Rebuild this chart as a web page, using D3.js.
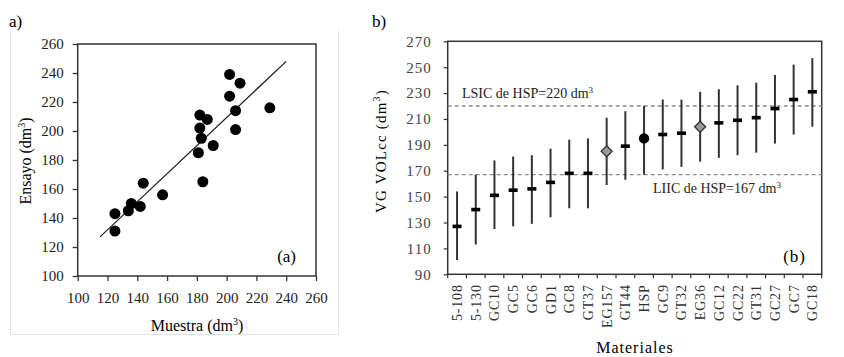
<!DOCTYPE html>
<html>
<head>
<meta charset="utf-8">
<script src="https://cdn.jsdelivr.net/npm/d3@7"></script>
<style>
  body { margin: 0; background: #fff; }
  svg text { font-family: "Liberation Serif", "Times New Roman", serif; }
</style>
</head>
<body>
<div class="chart"></div>
<script>
var width = 844;
var height = 357;

// ---- panel a) data ----
var muestra = [202, 209, 202, 229, 206, 182, 187, 182, 206, 183, 191, 181, 184, 144, 157, 136, 134, 142, 125, 125];
var ensayo  = [239, 233, 224, 216, 214, 211, 208, 202, 201, 195, 190, 185, 165, 164, 156, 150, 145, 148, 143, 131];
var lineX = [115, 240];
var lineY = [127, 248];
var ticksA = [100, 120, 140, 160, 180, 200, 220, 240, 260];

// ---- panel b) data ----
var materiales = ["5-108", "5-130", "GC10", "GC5", "GC6", "GD1", "GC8", "GT37", "EG157", "GT44",
                  "HSP", "GC9", "GT32", "EG36", "GC12", "GC22", "GT31", "GC27", "GC7", "GC18"];
var media    = [127, 140, 151, 155, 156, 161, 168, 168, 185, 189, 195, 198, 199, 204, 207, 209, 211, 218, 225, 231];
var inferior = [101, 113, 125, 127, 129, 134, 141, 141, 159, 163, 167, 171, 173, 177, 180, 182, 184, 191, 198, 204];
var superior = [154, 167, 178, 181, 182, 187, 194, 195, 211, 216, 220, 225, 225, 231, 233, 236, 238, 244, 252, 257];
var marcador = ["dash", "dash", "dash", "dash", "dash", "dash", "dash", "dash", "diamond", "dash",
                "circle", "dash", "dash", "diamond", "dash", "dash", "dash", "dash", "dash", "dash"];
var ticksB = [90, 110, 130, 150, 170, 190, 210, 230, 250, 270];
var LSIC = 220;
var LIIC = 167;

var svg = d3.select(".chart")
    .append("svg")
    .attr("width", width)
    .attr("height", height);

// ================= panel a =================
var xA = d3.scaleLinear().domain([100, 260]).range([77.7, 316]);
var yA = d3.scaleLinear().domain([100, 260]).range([276, 44]);

// faint chart-area frame
var gFrame = svg.append("g").attr("stroke", "#e3e3e3").attr("fill", "none");
gFrame.append("path").attr("d", "M10.5,30V334.5H338.5V30");

svg.append("text").attr("x", 9).attr("y", 27).attr("font-size", 17).text("a)");

var gA = svg.append("g");

var axA_x = gA.append("g")
    .attr("transform", "translate(0," + yA(100) + ")")
    .call(d3.axisBottom(xA).tickValues(ticksA).tickSize(5).tickPadding(11).tickSizeOuter(0));
var axA_y = gA.append("g")
    .attr("transform", "translate(" + xA(100) + ",0)")
    .call(d3.axisLeft(yA).tickValues(ticksA).tickSize(5).tickPadding(9).tickSizeOuter(0));
[axA_x, axA_y].forEach(function(ax){
    ax.select(".domain").remove();
    ax.selectAll("line").attr("stroke", "#333").attr("stroke-width", 1.3);
    ax.selectAll("text").attr("font-size", 15).attr("fill", "#222")
      .attr("font-family", "Liberation Serif, serif");
});

gA.append("rect")
    .attr("x", xA(100)).attr("y", yA(260))
    .attr("width", xA(260) - xA(100)).attr("height", yA(100) - yA(260))
    .attr("fill", "none").attr("stroke", "#333").attr("stroke-width", 1.5);

gA.append("line")
    .attr("x1", xA(lineX[0])).attr("y1", yA(lineY[0]))
    .attr("x2", xA(lineX[1])).attr("y2", yA(lineY[1]))
    .attr("stroke", "#222").attr("stroke-width", 1.3);

gA.selectAll(".pt")
    .data(muestra)
    .enter()
    .append("circle")
    .attr("class", "pt")
    .attr("cx", function(d){ return xA(d); })
    .attr("cy", function(d, i){ return yA(ensayo[i]); })
    .attr("r", 5.5)
    .attr("fill", "#000");

gA.append("text").attr("x", 296).attr("y", 262).attr("font-size", 17)
    .attr("text-anchor", "end").text("(a)");

var tMx = gA.append("text").attr("x", 197).attr("y", 331).attr("font-size", 16)
    .attr("text-anchor", "middle");
tMx.append("tspan").text("Muestra (dm");
tMx.append("tspan").attr("dy", -6).attr("font-size", 10).text("3");
tMx.append("tspan").attr("dy", 6).text(")");

var tEy = gA.append("text").attr("transform", "translate(31,161) rotate(-90)")
    .attr("font-size", 16).attr("text-anchor", "middle");
tEy.append("tspan").text("Ensayo (dm");
tEy.append("tspan").attr("dy", -6).attr("font-size", 10).text("3");
tEy.append("tspan").attr("dy", 6).text(")");

// ================= panel b =================
var xB = d3.scaleBand().domain(materiales).range([447.7, 821.7]);
var yB = d3.scaleLinear().domain([90, 270]).range([274.3, 41.3]);

svg.append("text").attr("x", 372).attr("y", 27).attr("font-size", 17).text("b)");

var gB = svg.append("g");

var axB_y = gB.append("g")
    .attr("transform", "translate(" + xB.range()[0] + ",0)")
    .call(d3.axisLeft(yB).tickValues(ticksB).tickSize(4).tickPadding(12).tickSizeOuter(0));
axB_y.select(".domain").remove();
axB_y.selectAll("line").attr("stroke", "#333").attr("stroke-width", 1.2);
axB_y.selectAll("text").attr("font-size", 15).attr("fill", "#444")
    .attr("font-family", "Liberation Serif, serif").attr("letter-spacing", 1);

// category boundary ticks
var edges = materiales.map(function(m){ return xB(m); }).concat([xB.range()[1]]);
gB.selectAll(".ctick")
    .data(edges)
    .enter()
    .append("line")
    .attr("class", "ctick")
    .attr("x1", function(d){ return d; }).attr("x2", function(d){ return d; })
    .attr("y1", yB(90)).attr("y2", yB(90) + 4)
    .attr("stroke", "#333").attr("stroke-width", 1.2);

gB.selectAll(".clab")
    .data(materiales)
    .enter()
    .append("text")
    .attr("class", "clab")
    .attr("transform", function(d){
        return "translate(" + (xB(d) + xB.bandwidth() / 2 + 5) + "," + (yB(90) + 10) + ") rotate(-90)";
    })
    .attr("text-anchor", "end")
    .attr("font-size", 14)
    .attr("letter-spacing", 0.8)
    .attr("fill", "#333")
    .text(function(d){ return d; });

gB.append("rect")
    .attr("x", xB.range()[0]).attr("y", yB(270))
    .attr("width", xB.range()[1] - xB.range()[0]).attr("height", yB(90) - yB(270))
    .attr("fill", "none").attr("stroke", "#333").attr("stroke-width", 1.5);

// reference lines
gB.selectAll(".ref")
    .data([LSIC, LIIC])
    .enter()
    .append("line")
    .attr("class", "ref")
    .attr("x1", xB.range()[0]).attr("x2", xB.range()[1] + 4)
    .attr("y1", function(d){ return yB(d); }).attr("y2", function(d){ return yB(d); })
    .attr("stroke", "#8a8a8a").attr("stroke-width", 1.3).attr("stroke-dasharray", "4,3");

// error bars
var cx = function(d){ return xB(d) + xB.bandwidth() / 2; };
gB.selectAll(".bar")
    .data(materiales)
    .enter()
    .append("line")
    .attr("class", "bar")
    .attr("x1", cx).attr("x2", cx)
    .attr("y1", function(d, i){ return yB(superior[i]); })
    .attr("y2", function(d, i){ return yB(inferior[i]); })
    .attr("stroke", "#333").attr("stroke-width", 2);

materiales.forEach(function(m, i){
    var x = cx(m), y = yB(media[i]);
    if (marcador[i] == "dash") {
        gB.append("rect").attr("x", x - 4.5).attr("y", y - 1.8).attr("width", 9).attr("height", 3.6)
            .attr("fill", "#000");
    } else if (marcador[i] == "diamond") {
        gB.append("path")
            .attr("d", "M" + x + "," + (y - 5.5) + "L" + (x + 5.5) + "," + y + "L" + x + "," + (y + 5.5) + "L" + (x - 5.5) + "," + y + "Z")
            .attr("fill", "#9a9a9a").attr("stroke", "#333").attr("stroke-width", 1.3);
    } else {
        gB.append("circle").attr("cx", x).attr("cy", y).attr("r", 5.2).attr("fill", "#000");
    }
});

var tL1 = gB.append("text").attr("x", 462).attr("y", 98).attr("font-size", 14).attr("fill", "#222");
tL1.append("tspan").text("LSIC de HSP=" + LSIC + " dm");
tL1.append("tspan").attr("dy", -5).attr("font-size", 9).text("3");

var tL2 = gB.append("text").attr("x", 653).attr("y", 193).attr("font-size", 14).attr("fill", "#222");
tL2.append("tspan").text("LIIC de HSP=" + LIIC + " dm");
tL2.append("tspan").attr("dy", -5).attr("font-size", 9).text("3");

gB.append("text").attr("x", 806).attr("y", 262).attr("font-size", 17)
    .attr("text-anchor", "end").attr("letter-spacing", 1).text("(b)");

gB.append("text").attr("x", 635).attr("y", 353).attr("font-size", 16)
    .attr("text-anchor", "middle").attr("letter-spacing", 1).text("Materiales");

var tVy = gB.append("text").attr("transform", "translate(386,151) rotate(-90)")
    .attr("font-size", 15).attr("text-anchor", "middle").attr("letter-spacing", 1.2);
tVy.append("tspan").text("VG VOLcc  (dm");
tVy.append("tspan").attr("dy", -6).attr("font-size", 10).text("3");
tVy.append("tspan").attr("dy", 6).text(")");
</script>
</body>
</html>
